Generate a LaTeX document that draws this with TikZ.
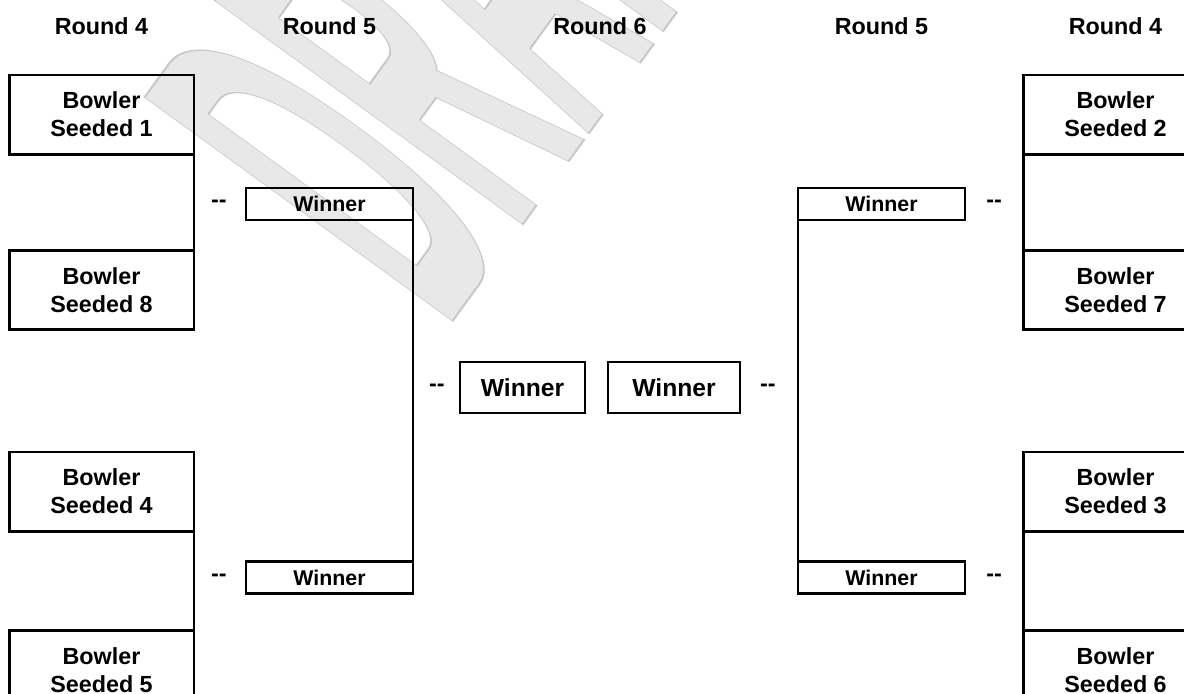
\documentclass[tikz,border=0pt]{standalone}
\usepackage{fontspec}
\setmainfont{Liberation Sans}
\usetikzlibrary{positioning}
\definecolor{ink}{HTML}{000000}
\definecolor{stampfill}{HTML}{E8E8E8}
\tikzset{
  box/.style={draw=ink,line width=2pt,inner sep=0pt,outer sep=0pt,align=center,text=ink},
  seedbox/.style={box,minimum width=138.5pt,minimum height=59.5pt,
                  font=\fontsize{17.5}{21}\selectfont\bfseries},
  winbox/.style={box,minimum width=125.25pt,minimum height=24pt,
                 font=\fontsize{16}{19}\selectfont\bfseries},
  finalbox/.style={box,minimum height=38.25pt,font=\fontsize{18.5}{22}\selectfont\bfseries},
  dashlbl/.style={inner sep=0pt,outer sep=0pt,text=ink,font=\fontsize{17.5}{21}\selectfont\bfseries},
  roundlbl/.style={inner sep=0pt,text=ink,font=\fontsize{17.5}{21}\selectfont\bfseries},
  wire/.style={draw=ink,line width=2pt},
  stamp/.style={inner sep=0pt,outer sep=0pt,anchor=base west,text=stampfill,
                font=\fontsize{100}{100}\selectfont\bfseries}
}

\begin{document}
\begin{tikzpicture}[x=0.75pt,y=-0.75pt]
  \useasboundingbox (0,0) rectangle (1184,693);
  \clip (0,0) rectangle (1184,693);
  % watermark behind everything
  \node[stamp,rotate=54,xscale=1.24,yscale=4.15] (wm) at (446,330)
    {\special{pdf:literal direct 2 Tr 0.78 G 0.35 w}DRAFT\special{pdf:literal direct 0 Tr}};
  % round headers
  \node[roundlbl] (h4l) at (101.5,26.5) {Round 4};
  \node[roundlbl] (h5l) at (329.5,26.5) {Round 5};
  \node[roundlbl] (h6) at (600,26.5) {Round 6};
  \node[roundlbl] (h5r) at (881.5,26.5) {Round 5};
  \node[roundlbl] (h4r) at (1115.5,26.5) {Round 4};
  % round 4, left half
  \node[seedbox] (s1) at (101.5,114.5) {Bowler\\Seeded 1};
  \node[seedbox] (s8) at (101.5,290) {Bowler\\Seeded 8};
  \node[seedbox] (s4) at (101.5,491.5) {Bowler\\Seeded 4};
  \node[seedbox] (s5) at (101.5,670) {Bowler\\Seeded 5};
  % round 4, right half
  \node[seedbox] (s2) at (1115.5,114.5) {Bowler\\Seeded 2};
  \node[seedbox] (s7) at (1115.5,290) {Bowler\\Seeded 7};
  \node[seedbox] (s3) at (1115.5,491.5) {Bowler\\Seeded 3};
  \node[seedbox] (s6) at (1115.5,670) {Bowler\\Seeded 6};
  % round 5
  \node[winbox] (w5a) at (329.5,204) {Winner};
  \node[winbox] (w5b) at (329.5,577.5) {Winner};
  \node[winbox] (w5c) at (881.5,204) {Winner};
  \node[winbox] (w5d) at (881.5,577.5) {Winner};
  % round 6
  \node[finalbox,minimum width=93.75pt] (w6a) at (522.5,387.5) {Winner};
  \node[finalbox,minimum width=99pt,right=17.25pt of w6a] (w6b) {Winner};
  % dashes
  \node[dashlbl,left=14.5pt of w5a] (d5a) {\mbox{-}\mbox{-}};
  \node[dashlbl,left=14.5pt of w5b] (d5b) {\mbox{-}\mbox{-}};
  \node[dashlbl,left=11.5pt of w6a] (d6a) {\mbox{-}\mbox{-}};
  \node[dashlbl,right=15pt of w6b] (d6b) {\mbox{-}\mbox{-}};
  \node[dashlbl,right=16pt of w5c] (d5c) {\mbox{-}\mbox{-}};
  \node[dashlbl,right=16pt of w5d] (d5d) {\mbox{-}\mbox{-}};
  % bracket lines
  \draw[wire] (s1.south east) -- (s8.north east);
  \draw[wire] (s4.south east) -- (s5.north east);
  \draw[wire] (s2.south west) -- (s7.north west);
  \draw[wire] (s3.south west) -- (s6.north west);
  \draw[wire] (w5a.south east) -- (w5b.north east);
  \draw[wire] (w5c.south west) -- (w5d.north west);
\end{tikzpicture}
\end{document}
